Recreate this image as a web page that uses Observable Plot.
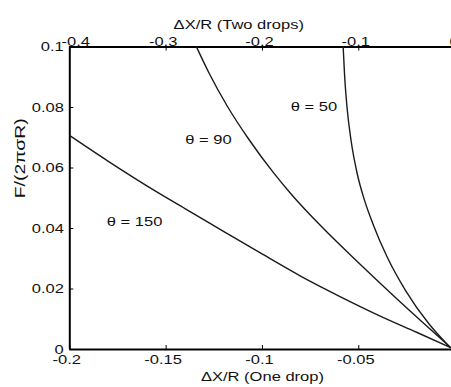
<!DOCTYPE html>
<html>
<head>
<meta charset="utf-8">
<script src="https://cdn.jsdelivr.net/npm/d3@7"></script>
<script src="https://cdn.jsdelivr.net/npm/@observablehq/plot@0.6"></script>
<style>
  html, body { margin: 0; padding: 0; background: #fff; }
  #chart { width: 451px; height: 387px; overflow: hidden; }
</style>
</head>
<body>
<div id="chart"></div>
<script>
// ---- data (x in "one drop" units, y = F/(2πσR)) ----
const theta150X = [-0.2, -0.18, -0.16, -0.14, -0.12, -0.1, -0.08, -0.06, -0.04, -0.02, -0.0026];
const theta150Y = [0.0707, 0.0622, 0.0541, 0.0465, 0.039, 0.0315, 0.0242, 0.0176, 0.0114, 0.0057, 0.0007];

const theta90X = [-0.1342, -0.1278, -0.1183, -0.1071, -0.0941, -0.0847, -0.0682, -0.0508, -0.0335, -0.0162, -0.0026];
const theta90Y = [0.1, 0.0915, 0.0805, 0.0695, 0.0583, 0.0511, 0.0399, 0.0291, 0.0187, 0.0086, 0.0008];

const theta50X = [-0.0581, -0.0574, -0.0561, -0.054, -0.0508, -0.047, -0.0427, -0.0352, -0.0257, -0.0136, -0.0026];
const theta50Y = [0.1, 0.0911, 0.0801, 0.0691, 0.0581, 0.0493, 0.0416, 0.0305, 0.0195, 0.0085, 0.0007];

const curveNames = ["θ = 150", "θ = 90", "θ = 50"];
const labelX = [-0.1664, -0.128, -0.0733];
const labelY = [0.0423, 0.0694, 0.0801];

const xTicksBottom = [-0.2, -0.15, -0.1, -0.05, 0];
const xTicksTop = [-0.4, -0.3, -0.2, -0.1, 0];   // "Two drops" units (= 2 × one drop)
const yTicks = [0, 0.02, 0.04, 0.06, 0.08, 0.1];

const xLabelBottom = "ΔX/R (One drop)";
const xLabelTop = "ΔX/R (Two drops)";
const yLabel = "F/(2πσR)";

// ---- build tables ----
const toRows = (name, xs, ys) => xs.map((x, i) => ({name, x, y: ys[i]}));
const lines = [
  ...toRows(curveNames[0], theta150X, theta150Y),
  ...toRows(curveNames[1], theta90X, theta90Y),
  ...toRows(curveNames[2], theta50X, theta50Y)
];
const labels = curveNames.map((t, i) => ({t, x: labelX[i], y: labelY[i]}));

const W = 451, H = 387;
const mL = 69.3, mR = -3.6, mT = 46.5, mB = 38;
const frameW = W - mR - mL, frameH = H - mT - mB;
const fs = 13;
const tick = 4;

const chart = Plot.plot({
  width: W,
  height: H,
  marginLeft: mL,
  marginRight: mR,
  marginTop: mT,
  marginBottom: mB,
  style: {fontFamily: "'Liberation Sans', Arial, sans-serif", fontSize: fs + "px", background: "#fff", color: "#000", overflow: "hidden"},
  x: {domain: [-0.2, 0], range: [mL, W - mR], axis: null},
  y: {domain: [0, 0.1], range: [H - mB, mT], axis: null},
  marks: [
    // inward ticks
    Plot.tickX(xTicksBottom, {x: d => d, insetTop: frameH - tick, stroke: "#000", strokeWidth: 1}),
    Plot.tickX(xTicksTop, {x: d => d / 2, insetBottom: frameH - tick, stroke: "#000", strokeWidth: 1}),
    Plot.tickY(yTicks, {y: d => d, insetRight: frameW - tick, stroke: "#000", strokeWidth: 1}),
    // box
    Plot.ruleY([0, 0.1], {stroke: "#000", strokeWidth: 2}),
    Plot.ruleX([-0.2, 0], {stroke: "#000", strokeWidth: 2}),
    // curves
    Plot.line(lines, {x: "x", y: "y", z: "name", stroke: "#1a1a1a", strokeWidth: 1.4, curve: "monotone-x"}),
    // curve labels
    Plot.text(labels, {x: "x", y: "y", text: "t", fontSize: fs, fill: "#111"}),
    // tick labels
    Plot.text(xTicksBottom.slice(0, -1), {x: d => d, text: d => String(d), frameAnchor: "bottom", dy: 14.3, dx: -3, fontSize: fs, fill: "#111"}),
    Plot.text(xTicksTop.slice(0, 1), {x: d => d / 2, text: d => String(d), frameAnchor: "top", dy: -10, dx: 6, fontSize: fs, fill: "#111"}),
    Plot.text(xTicksTop.slice(1, -1), {x: d => d / 2, text: d => String(d), frameAnchor: "top", dy: -10, dx: -3, fontSize: fs, fill: "#111"}),
    Plot.text(xTicksTop.slice(-1), {x: d => d / 2, text: d => String(d), frameAnchor: "top", dy: -10, dx: -1, fontSize: fs, fill: "#111"}),
    Plot.text(yTicks, {y: d => d, text: d => String(d), frameAnchor: "left", textAnchor: "end", dx: -6, fontSize: fs, fill: "#111"}),
    // axis titles
    Plot.text([xLabelBottom], {frameAnchor: "bottom", dy: 31, fontSize: fs, fill: "#111"}),
    Plot.text([xLabelTop], {x: () => -0.1123, frameAnchor: "top", dy: -27.5, fontSize: fs, fill: "#111"}),
    Plot.text([yLabel], {frameAnchor: "left", rotate: -90, dx: -49.3, fontSize: 14, fill: "#111"})
  ]
});
document.getElementById("chart").appendChild(chart);

// widen glyphs horizontally like the reference's stretched Helvetica
chart.querySelectorAll("text").forEach(t => {
  const L = t.getComputedTextLength();
  if (!(L > 0)) return;
  if (t.textContent === yLabel) {
    // stretch along the (rotated) text direction to the reference length
    const k = 80 / L;
    const tr = t.getAttribute("transform") || "";
    t.setAttribute("transform", tr + ` scale(${k.toFixed(3)},1)`);
  } else {
    t.setAttribute("textLength", (L * 1.27).toFixed(1));
    t.setAttribute("lengthAdjust", "spacingAndGlyphs");
  }
});
</script>
</body>
</html>
